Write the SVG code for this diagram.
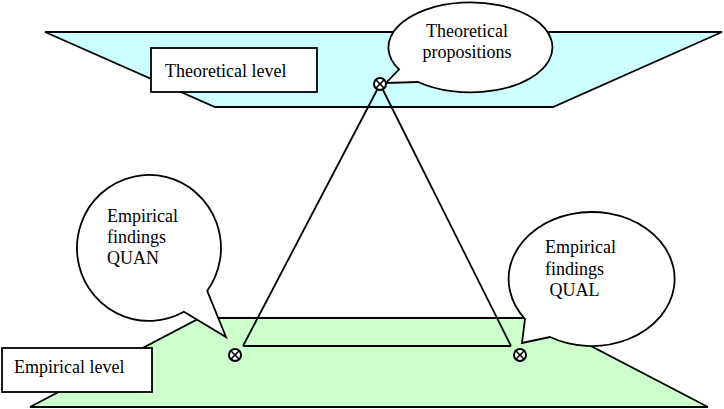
<svg xmlns="http://www.w3.org/2000/svg" width="724" height="409" viewBox="0 0 724 409">
<style>
.ln{fill:none;stroke:#000;stroke-width:1.8;stroke-linejoin:miter}
.sh{stroke:#000;stroke-width:1.8;stroke-linejoin:miter}
.t{font-family:"Liberation Serif","Times New Roman",serif;font-size:18px;fill:#000}
.nd{fill:#fff;stroke:#000;stroke-width:2}
.x{stroke:#000;stroke-width:1.6}
</style>
<defs>
<g id="otimes">
<circle class="nd" cx="0" cy="0" r="6"/>
<line class="x" x1="-4.2" y1="-4.2" x2="4.2" y2="4.2"/>
<line class="x" x1="-4.2" y1="4.2" x2="4.2" y2="-4.2"/>
</g>
</defs>
<g id="theoretical-plane">
<polygon class="sh" fill="#CCFFFF" points="45,32 722,32 553,107 215,107"/>
</g>
<g id="empirical-plane">
<polygon class="sh" fill="#CCFFCC" points="30,407 200,318 537,318 708,407"/>
</g>
<g id="theoretical-level">
<rect class="sh" fill="#fff" x="151" y="48" width="166" height="44"/>
<text class="t" x="165" y="77">Theoretical level</text>
</g>
<g id="empirical-level">
<rect class="sh" fill="#fff" x="2" y="348" width="150" height="44"/>
<text class="t" x="14" y="373">Empirical level</text>
</g>
<g id="theoretical-propositions">
<path class="sh" fill="#fff" d="M399,69.5 L386,83 L418,82 A82 45 0 1 0 399,69.5 Z"/>
<text class="t" x="467" y="37" text-anchor="middle">Theoretical</text>
<text class="t" x="467" y="58" text-anchor="middle">propositions</text>
</g>
<g id="findings-quan">
<path class="sh" fill="#fff" d="M207.2,290.9 L226,337 L183.9,311.8 A72 73 0 1 1 207.2,290.9 Z"/>
<text class="t" x="107" y="222">Empirical</text>
<text class="t" x="107" y="243">findings</text>
<text class="t" x="107" y="264">QUAN</text>
</g>
<g id="findings-qual">
<path class="sh" fill="#fff" d="M525,319 L522,343 L550,337 A83 67 0 1 0 525,319 Z"/>
<text class="t" x="545" y="253">Empirical</text>
<text class="t" x="545" y="275">findings</text>
<text class="t" x="545" y="296" xml:space="preserve"> QUAL</text>
</g>
<g id="connectors">
<line class="ln" x1="377" y1="90" x2="243" y2="346"/>
<line class="ln" x1="383" y1="90" x2="511" y2="346"/>
<line class="ln" x1="243" y1="346" x2="511" y2="346"/>
</g>
<g id="node-top"><use href="#otimes" x="380" y="84"/></g>
<g id="node-quan"><use href="#otimes" x="235" y="355"/></g>
<g id="node-qual"><use href="#otimes" x="520" y="355"/></g>
</svg>
